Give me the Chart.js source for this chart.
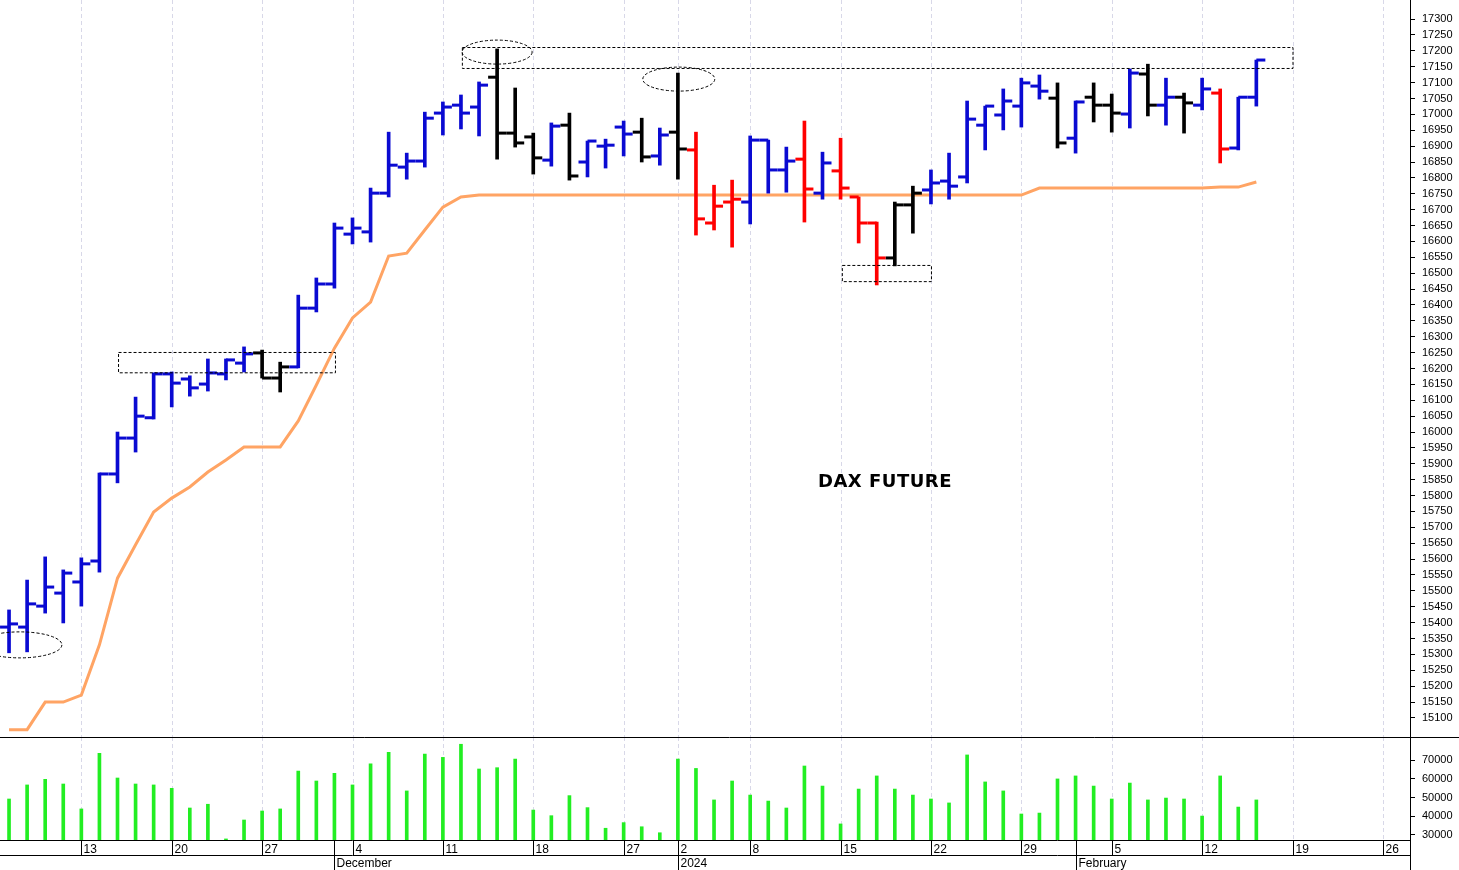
<!DOCTYPE html>
<html><head><meta charset="utf-8">
<script src="https://cdn.jsdelivr.net/npm/chart.js@4/dist/chart.umd.min.js"></script>
<style>
body{margin:0;background:#fff;width:1459px;height:870px;overflow:hidden;position:relative;font-family:"Liberation Sans",Arial,sans-serif}
#c1{position:absolute;left:0;top:0}
#c2{position:absolute;left:0;top:737px}
#title{position:absolute;left:818px;top:470px;font:bold 18px "DejaVu Sans",sans-serif;letter-spacing:0.5px}
</style></head><body>
<canvas id="c1" width="1459" height="737"></canvas>
<canvas id="c2" width="1459" height="133"></canvas>
<div id="title">DAX FUTURE</div>
<script>
const dates=["2023-11-07","2023-11-08","2023-11-09","2023-11-10","2023-11-13","2023-11-14","2023-11-15","2023-11-16","2023-11-17","2023-11-20","2023-11-21","2023-11-22","2023-11-23","2023-11-24","2023-11-27","2023-11-28","2023-11-29","2023-11-30","2023-12-01","2023-12-04","2023-12-05","2023-12-06","2023-12-07","2023-12-08","2023-12-11","2023-12-12","2023-12-13","2023-12-14","2023-12-15","2023-12-18","2023-12-19","2023-12-20","2023-12-21","2023-12-22","2023-12-27","2023-12-28","2023-12-29","2024-01-02","2024-01-03","2024-01-04","2024-01-05","2024-01-08","2024-01-09","2024-01-10","2024-01-11","2024-01-12","2024-01-15","2024-01-16","2024-01-17","2024-01-18","2024-01-19","2024-01-22","2024-01-23","2024-01-24","2024-01-25","2024-01-26","2024-01-29","2024-01-30","2024-01-31","2024-02-01","2024-02-02","2024-02-05","2024-02-06","2024-02-07","2024-02-08","2024-02-09","2024-02-12","2024-02-13","2024-02-14","2024-02-15","2024-02-16","2024-02-19","2024-02-20","2024-02-21","2024-02-22","2024-02-23","2024-02-26","2024-02-27"];
const openV=[15386,15386,15452,15493,15528,15594,15868,15981,16045,16183,16167,16151,16183,16217,16249,16170,16205,16390,16466,16623,16630,16752,16834,16853,17004,17029,17023,17117,16941,16929,16856,16966,16850,16900,16960,16944,16869,16944,16888,16658,16724,16724,16919,16825,16859,16752,16822,16740,16658,16548,16715,16762,16790,16803,16966,16998,17026,17089,17051,16925,17054,17029,17001,17127,17029,17054,17029,17067,16894,17054];
const highV=[15440,15534,15607,15566,15604,15871,16000,16110,16186,16189,16177,16230,16230,16268,16258,16220,16431,16485,16658,16674,16768,16944,16878,17007,17039,17061,17102,17206,17083,16941,16973,17004,16916,16922,16979,16988,16957,17130,16944,16777,16793,16932,16919,16897,16979,16881,16925,16740,16661,16724,16774,16825,16878,17042,17026,17080,17114,17124,17099,17042,17099,17064,17143,17158,17114,17067,17114,17080,17054,17171];
const lowV=[15305,15308,15430,15399,15452,15559,15840,15937,16041,16079,16113,16129,16164,16189,16170,16126,16202,16378,16453,16592,16598,16740,16796,16834,16935,16954,16932,16859,16897,16812,16837,16793,16803,16831,16869,16850,16840,16796,16620,16636,16582,16655,16752,16755,16661,16733,16733,16595,16463,16523,16626,16718,16733,16784,16888,16951,16960,17048,16894,16878,16976,16944,16957,16995,16966,16941,17014,16847,16888,17026];
const closeV=[15396,15459,15512,15556,15585,15868,15981,16050,16183,16154,16139,16186,16227,16246,16170,16205,16390,16466,16642,16642,16752,16840,16853,16988,17023,17004,17092,16941,16910,16863,16963,16806,16916,16903,16938,16866,16935,16891,16671,16711,16733,16919,16825,16853,16765,16847,16768,16658,16548,16715,16752,16784,16774,16985,17026,17042,17099,17073,16910,17039,17029,17004,17130,17029,17054,17036,17080,16891,17054,17171];
const stopLine=[15063,15063,15150,15150,15172,15330,15540,15645,15748,15792,15827,15874,15912,15953,15953,15953,16035,16148,16264,16359,16409,16554,16563,16636,16708,16740,16746,16746,16746,16746,16746,16746,16746,16746,16746,16746,16746,16746,16746,16746,16746,16746,16746,16746,16746,16746,16746,16746,16746,16746,16746,16746,16746,16746,16746,16746,16746,16768,16768,16768,16768,16768,16768,16768,16768,16768,16768,16771,16771,16787];
const volumeV=[49200,56700,59700,57200,43900,73600,60400,57200,56700,54900,44400,46400,27900,38000,42800,43900,64100,58800,62900,56700,67900,74100,53500,73200,71400,78400,65200,65900,70500,43300,40300,51000,44600,33600,36600,34400,31200,70500,65500,48700,58800,51300,48100,44400,66800,56100,35900,54500,61500,54500,51300,49200,47100,72700,58300,53500,41200,41700,59900,61500,56100,49200,57700,48700,49700,49200,40100,61500,44900,48700];
// bar colour codes: b=blue k=black r=red
const colorCodes="bbbbbbbbbbbbbbkkbbbbbbbbbbbkkkbkbbbkbkrrrbbbrbrrrkkbbbbbbbkbkkbkbkbrbb";
const cmap={b:"#0a0ad2",k:"#000000",r:"#ff0000"};
const barColors=[...colorCodes].map(c=>cmap[c]);
const priceTicks=[];for(let p=15100;p<=17300;p+=50)priceTicks.push(p);
const volTicks=[30000,40000,50000,60000,70000];
const monthNames=["January","February","March","April","May","June","July","August","September","October","November","December"];
const D=dates.map(s=>new Date(s+"T12:00:00Z"));
const weekStart=D.map((d,i)=>i>0&&d.getUTCDay()<D[i-1].getUTCDay());
const monthStart=D.map((d,i)=>i>0&&d.getUTCMonth()!==D[i-1].getUTCMonth());
const labels=dates.map(s=>s);

const gridPlugin={id:'wgrid',beforeDatasetsDraw(ch){const x=ch.scales.x,a=ch.chartArea,c=ch.ctx;c.save();c.strokeStyle='#d8d8e8';c.lineWidth=1;c.setLineDash([4,3]);
 weekStart.forEach((w,i)=>{if(!w)return;const px=Math.round(x.getPixelForValue(i))+0.5;c.beginPath();c.moveTo(px,a.top);c.lineTo(px,a.bottom);c.stroke();});c.restore();}};

const ohlcPlugin={id:'ohlc',afterDatasetsDraw(ch){const x=ch.scales.x,y=ch.scales.y,c=ch.ctx;c.save();c.lineWidth=3;
 openV.forEach((o,i)=>{const px=x.getPixelForValue(i);c.strokeStyle=barColors[i];
  c.beginPath();c.moveTo(px-9,y.getPixelForValue(o));c.lineTo(px,y.getPixelForValue(o));c.stroke();
  c.beginPath();c.moveTo(px,y.getPixelForValue(closeV[i]));c.lineTo(px+9,y.getPixelForValue(closeV[i]));c.stroke();});
 c.lineWidth=1;c.strokeStyle='#000';c.setLineDash([3,2]);
 const rect=(i0,i1,p0,p1)=>{const x0=x.getPixelForValue(i0),x1=x.getPixelForValue(i1),y0=y.getPixelForValue(p0),y1=y.getPixelForValue(p1);c.strokeRect(x0+0.5,y0+0.5,x1-x0,y1-y0);};
 rect(6.03,18.03,16252,16188);rect(25.05,71,17212,17146);rect(46.07,51,16526,16475);
 const ell=(i,p,rx,ry)=>{c.beginPath();c.ellipse(x.getPixelForValue(i),y.getPixelForValue(p),rx,ry,0,0,Math.PI*2);c.stroke();};
 ell(27,17196,35,12);ell(37.05,17111,36,12);ell(0.6,15330,42,13);
 c.setLineDash([]);c.beginPath();c.moveTo(ch.chartArea.right+0.5,0);c.lineTo(ch.chartArea.right+0.5,ch.height);c.stroke();
 c.restore();}};

const axisPlugin={id:'xaxis',afterDraw(ch){const x=ch.scales.x,a=ch.chartArea,c=ch.ctx;c.save();c.strokeStyle='#000';c.lineWidth=1;c.fillStyle='#000';
 c.beginPath();c.moveTo(0,0.5);c.lineTo(ch.width,0.5);c.stroke();
 const yb=Math.round(a.bottom)+0.5;c.beginPath();c.moveTo(0,yb);c.lineTo(a.right,yb);c.moveTo(0,yb+15);c.lineTo(a.right,yb+15);c.stroke();
 c.beginPath();c.moveTo(a.right+0.5,0);c.lineTo(a.right+0.5,ch.height);c.stroke();
 c.font='12px "Liberation Sans",Arial';c.textBaseline='top';
 weekStart.forEach((w,i)=>{if(!w)return;const px=Math.round(x.getPixelForValue(i))+0.5;c.beginPath();c.moveTo(px,yb);c.lineTo(px,yb+15);c.stroke();c.fillText(String(D[i].getUTCDate()),px+2,yb+3);});
 monthStart.forEach((m,i)=>{if(!m)return;const px=Math.round(x.getPixelForValue(i))+0.5;c.beginPath();c.moveTo(px,yb);c.lineTo(px,ch.height);c.stroke();const mo=D[i].getUTCMonth();c.fillText(mo===0?String(D[i].getUTCFullYear()):monthNames[mo],px+2,yb+17);});
 c.restore();}};

const yRight=(min,max,ticks,w)=>({position:'right',min,max,afterBuildTicks:s=>{s.ticks=ticks.map(v=>({value:v}));},
 afterFit:s=>{s.width=w;s.paddingTop=0;s.paddingBottom=0;},
 ticks:{color:'#000',font:{size:11,family:'"Liberation Sans",Arial'},padding:7,autoSkip:false,callback:v=>String(v)},
 grid:{drawOnChartArea:false,tickLength:5,color:'#000'},border:{color:'#000'}});

new Chart(document.getElementById('c1'),{
 data:{labels,datasets:[
  {type:'bar',data:lowV.map((l,i)=>[l,highV[i]]),backgroundColor:barColors,barThickness:3,order:1},
  {type:'line',data:stopLine,borderColor:'#ffa464',borderWidth:3,pointRadius:0,tension:0,order:2}]},
 options:{responsive:false,animation:false,devicePixelRatio:1,layout:{padding:0},
  plugins:{legend:{display:false},tooltip:{enabled:false}},
  scales:{x:{display:false,offset:true},y:yRight(15040,17360,priceTicks,49)}},
 plugins:[gridPlugin,ohlcPlugin]});

new Chart(document.getElementById('c2'),{
 data:{labels,datasets:[{type:'bar',data:volumeV,backgroundColor:'#22ee22',barThickness:3}]},
 options:{responsive:false,animation:false,devicePixelRatio:1,layout:{padding:{bottom:30}},
  plugins:{legend:{display:false},tooltip:{enabled:false}},
  scales:{x:{display:false,offset:true},y:yRight(27333,82267,volTicks,49)}},
 plugins:[gridPlugin,axisPlugin]});
</script></body></html>
